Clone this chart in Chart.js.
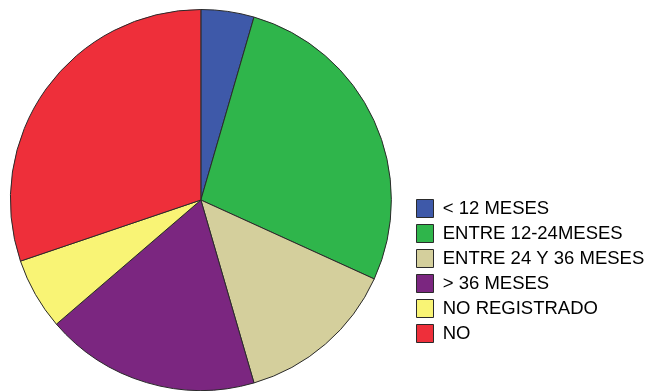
<!DOCTYPE html>
<html>
<head>
    <title>Tiempo</title>
    <script src="https://cdn.jsdelivr.net/npm/chart.js"></script>
    <style>
        html, body { margin: 0; padding: 0; background: #fff; }
        #wrap { width: 649px; height: 391px; }
    </style>
</head>
<body>
    <div id="wrap">
        <canvas id="pieChart"></canvas>
    </div>

    <script>
        const categorias = ['< 12 MESES', 'ENTRE 12-24MESES', 'ENTRE 24 Y 36 MESES', '> 36 MESES', 'NO REGISTRADO', 'NO'];
        const porcentajes = [4.5, 27.3, 13.7, 18.2, 6.1, 30.2];
        const colores = ['#3e59a9', '#2fb54b', '#d4cf9c', '#7b2680', '#f9f475', '#ee2f3a'];

        // mueve la leyenda a su sitio (más abajo y a la derecha del pastel)
        const moverLeyenda = {
            id: 'moverLeyenda',
            afterLayout(chart) {
                const lg = chart.legend;
                const dx = 410 - lg.left;
                lg.left += dx; lg.right += dx;
                lg.top += 70; lg.bottom += 70;
            }
        };

        new Chart(document.getElementById('pieChart'), {
            type: 'pie',
            data: {
                labels: categorias,
                datasets: [{
                    data: porcentajes,
                    backgroundColor: colores,
                    borderColor: '#2a2a2a',
                    borderWidth: 1
                }]
            },
            options: {
                responsive: true,
                maintainAspectRatio: false,
                animation: false,
                layout: { padding: { left: 9, top: 9, bottom: -2, right: 12 } },
                plugins: {
                    tooltip: { enabled: false },
                    legend: {
                        position: 'right',
                        align: 'center',
                        labels: {
                            boxWidth: 17,
                            boxHeight: 18,
                            padding: 6.5,
                            color: '#111',
                            font: { family: 'Liberation Sans, Arial, sans-serif', size: 18.5 },
                            generateLabels: chart => categorias.map((c, i) => ({
                                text: c,
                                fillStyle: colores[i],
                                strokeStyle: '#2a2a2a',
                                lineWidth: 1,
                                index: i
                            }))
                        }
                    }
                }
            },
            plugins: [moverLeyenda]
        });
    </script>
</body>
</html>
